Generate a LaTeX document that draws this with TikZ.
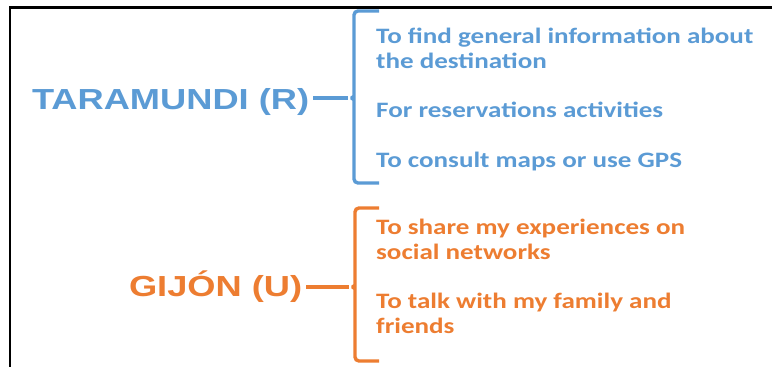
\documentclass[tikz,border=0pt]{standalone}
\usepackage{fontspec}
\newfontfamily\headfont[FakeStretch=1.25]{Liberation Sans}
\newfontfamily\itemfont[FakeStretch=1.23]{Carlito}
\definecolor{tblue}{HTML}{5B9BD5}
\definecolor{torange}{HTML}{ED7D31}
\begin{document}
\begin{tikzpicture}[x=1pt,y=-1pt,
  head/.style={font=\headfont\bfseries\fontsize{29}{34}\selectfont, anchor=base west, inner sep=0pt, outer sep=4pt},
  item/.style={font=\itemfont\bfseries\fontsize{22}{24.5}\selectfont, anchor=base west, inner sep=0pt, align=left},
  brace/.style={line width=3.4pt, rounded corners=4pt},
  link/.style={line width=3.4pt}]
\useasboundingbox (0,0) rectangle (772,367);
\fill[white] (0,0) rectangle (772,367);
% frame
\draw[line width=2.5pt] (10,367) -- (10,7.5) -- (772,7.5);
% TARAMUNDI
\node[head, text=tblue] (tr) at (28,109) {TARAMUNDI (R)};
\draw[brace, tblue] (379,11) -- (354,11) -- (354,93) to[out=-90,in=0] (348,98) coordinate (bt) to[out=0,in=90] (354,103) -- (354,183) -- (379,183);
\draw[link, tblue] (tr.east |- bt) -- (bt);
\node[item, text=tblue] (r1) at (376,68) {To find general information about\\the destination};
\node[item, text=tblue] (r2) at (376,117) {For reservations activities};
\node[item, text=tblue] (r3) at (376,167) {To consult maps or use GPS};
% GIJON
\node[head, text=torange] (gu) at (125,296) {GIJÓN (U)};
\draw[brace, torange] (379,208) -- (355,208) -- (355,282) to[out=-90,in=0] (349,287) coordinate (gt) to[out=0,in=90] (355,292) -- (355,361) -- (379,361);
\draw[link, torange] (gu.east |- gt) -- (gt);
\node[item, text=torange] (u1) at (376,259) {To share my experiences on\\social networks};
\node[item, text=torange] (u2) at (376,333) {To talk with my family and\\friends};
\end{tikzpicture}
\end{document}
